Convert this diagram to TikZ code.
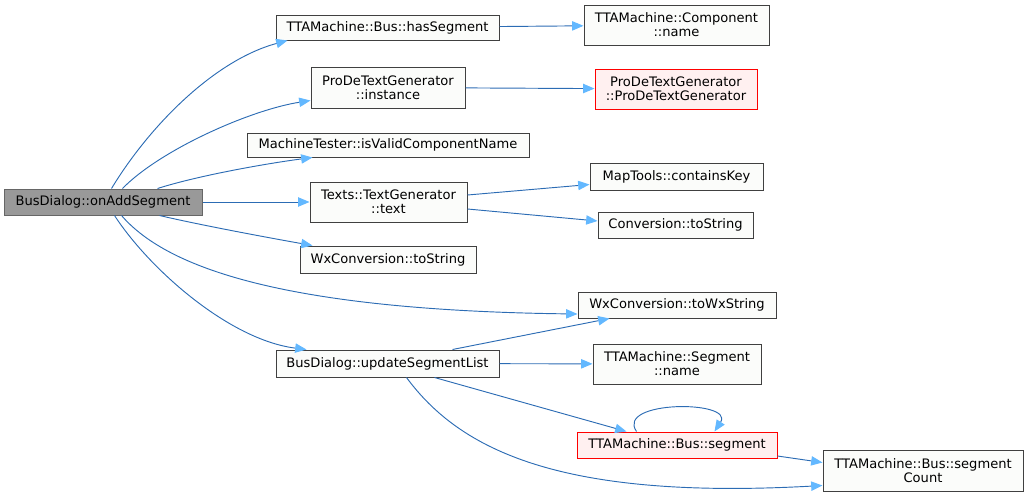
\documentclass[tikz,border=0pt]{standalone}
\usepackage{fontspec}
\setmainfont{DejaVu Sans}
\usetikzlibrary{arrows.meta,calc}
\definecolor{edgeblue}{RGB}{44,108,180}
\definecolor{tipblue}{HTML}{63B8FF}
\definecolor{nodefill}{HTML}{FBFCFA}
\definecolor{rootfill}{HTML}{999999}
\definecolor{redfill}{HTML}{FFF0F0}
\tikzset{
  box/.style={draw=black!75, fill=nodefill, line width=0.75pt, inner sep=0pt, align=center,
    font=\fontsize{9.8}{10.5}\selectfont},
  rootbox/.style={box, fill=rootfill, draw=black!60},
  redbox/.style={box, fill=redfill, draw=red},
  wh/.style 2 args={minimum width=#1*0.75pt, minimum height=#2*0.75pt},
  edge/.style={draw=edgeblue, line width=0.7pt,
    -{Triangle[length=8.5pt,width=7pt,fill=tipblue,color=tipblue]}},
}
\begin{document}
\begin{tikzpicture}[x=0.75pt,y=-0.75pt]
\useasboundingbox (0,0) rectangle (1028,496);
\node[rootbox, wh={198}{26}] (root) at (103,202) {BusDialog::onAddSegment};
\node[box, wh={223}{25}] (hasSeg) at (387.5,27.5) {TTAMachine::Bus::hasSegment};
\node[box, wh={185}{40}] (compName) at (676.5,25) {TTAMachine::Component\\::name};
\node[box, wh={154}{41}] (instance) at (388,87.5) {ProDeTextGenerator\\::instance};
\node[redbox, wh={162}{40}] (prode) at (676,89) {ProDeTextGenerator\\::ProDeTextGenerator};
\node[box, wh={282}{24}] (isValid) at (388,145) {MachineTester::isValidComponentName};
\node[box, wh={157}{40}] (text) at (388.5,202) {Texts::TextGenerator\\::text};
\node[box, wh={176}{27}] (wxToString) at (388,259.5) {WxConversion::toString};
\node[box, wh={173}{27}] (containsKey) at (676.5,176.5) {MapTools::containsKey};
\node[box, wh={155}{26}] (convToString) at (675.5,225) {Conversion::toString};
\node[box, wh={198}{26}] (toWx) at (677,305) {WxConversion::toWxString};
\node[box, wh={223}{27}] (updSeg) at (387.5,363.5) {BusDialog::updateSegmentList};
\node[box, wh={168}{40}] (segName) at (677,364) {TTAMachine::Segment\\::name};
\node[redbox, wh={200}{26}] (busSeg) at (677,445) {TTAMachine::Bus::segment};
\node[box, wh={200}{41}] (segCount) at (923,470.5) {TTAMachine::Bus::segment\\Count};

% edges from root
\draw[edge] ($(root.north west)+(108,0)$) .. controls (150,125) and (215,60) .. ($(hasSeg.south west)+(12,0)$);
\draw[edge] ($(root.north west)+(119,0)$) .. controls (160,150) and (250,110) .. ($(instance.south west)+(0,-8)$);
\draw[edge] ($(root.north west)+(154,0)$) .. controls (200,175) and (270,163) .. ($(isValid.south west)+(66,0)$);
\draw[edge] (root) -- (text);
\draw[edge] ($(root.south west)+(156,0)$) .. controls (200,225) and (270,238) .. ($(wxToString.north west)+(13,0)$);
\draw[edge] ($(root.south west)+(118,0)$) .. controls (160,260) and (260,310) .. ($(toWx.west)+(0,9)$);
\draw[edge] ($(root.south west)+(111,0)$) .. controls (150,270) and (230,340) .. ($(updSeg.north west)+(31,0)$);
% others
\draw[edge] (hasSeg) -- (compName);
\draw[edge] (instance) -- (prode);
\draw[edge] ($(text.east)+(0,-7)$) -- ($(containsKey.west)+(0,8)$);
\draw[edge] ($(text.east)+(0,7)$) -- ($(convToString.west)+(0,-4)$);
\draw[edge] ($(updSeg.north west)+(177,0)$) -- ($(toWx.south west)+(32,0)$);
\draw[edge] (updSeg) -- (segName);
\draw[edge] ($(updSeg.south west)+(159,0)$) -- ($(busSeg.north west)+(50,0)$);
\draw[edge] ($(updSeg.south west)+(131,0)$) .. controls (460,450) and (560,500) .. ($(segCount.west)+(0,15)$);
\draw[edge] ($(busSeg.north west)+(60,0)$) .. controls (615,400) and (735,400) .. ($(busSeg.north west)+(138,0)$);
\draw[edge] ($(busSeg.east)+(0,11)$) -- ($(segCount.west)+(0,-8)$);
\end{tikzpicture}
\end{document}
